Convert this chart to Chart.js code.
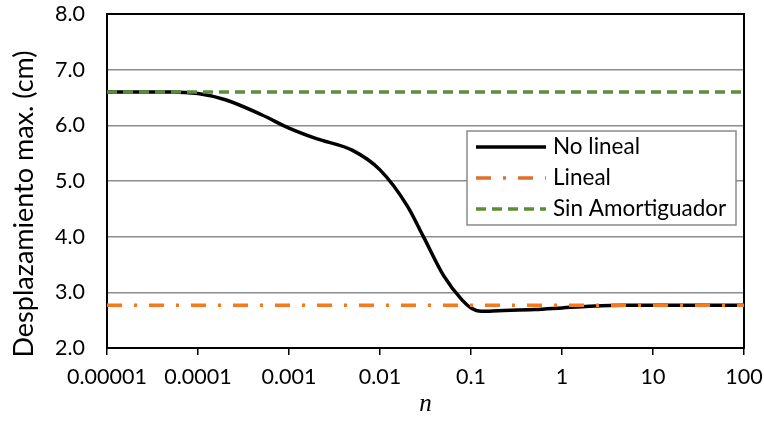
<!DOCTYPE html>
<html><head><meta charset="utf-8">
<script src="https://cdn.jsdelivr.net/npm/chart.js@4.4.1/dist/chart.umd.min.js"></script>
<style>html,body{margin:0;padding:0;background:#fff}#wrap{width:764px;height:421px}</style>
</head><body><div id="wrap"><canvas id="c" width="764" height="421"></canvas></div>
<script>
const nValues = [0.00001, 0.00002, 0.00005, 0.0001, 0.0002, 0.0005, 0.001, 0.002, 0.005, 0.01, 0.02, 0.03, 0.05, 0.08, 0.1, 0.13, 0.2, 0.5, 1, 2, 5, 10, 100];
const noLineal = [6.6, 6.6, 6.6, 6.57, 6.46, 6.19, 5.95, 5.76, 5.55, 5.2, 4.55, 4.0, 3.3, 2.86, 2.72, 2.66, 2.67, 2.69, 2.72, 2.75, 2.77, 2.77, 2.77];
const linealX = [0.00001, 100];
const lineal = [2.77, 2.77];
const sinX = [0.00001, 100];
const sinAmortiguador = [6.6, 6.6];
const xTicks = [0.00001, 0.0001, 0.001, 0.01, 0.1, 1, 10, 100];
const xTickLabels = ['0.00001', '0.0001', '0.001', '0.01', '0.1', '1', '10', '100'];
const seriesNames = ['No lineal', 'Lineal', 'Sin Amortiguador'];
const yTitle = 'Desplazamiento max. (cm)';
const xTitle = 'n';

const FONT = 'Lato, "Open Sans", sans-serif';
const toXY = (xs, ys) => xs.map((x, i) => ({x: x, y: ys[i]}));

const frame = {
  id: 'frame',
  beforeDatasetsDraw(chart) {
    const {ctx, chartArea: a} = chart;
    ctx.save();
    ctx.strokeStyle = '#000';
    ctx.lineWidth = 2;
    ctx.strokeRect(a.left, a.top, a.right - a.left, a.bottom - a.top);
    ctx.restore();
  },
  afterDraw(chart) {
    const ctx = chart.ctx;
    const ds = chart.data.datasets;
    ctx.save();
    // y axis title
    ctx.translate(24, 204);
    ctx.rotate(-Math.PI / 2);
    ctx.fillStyle = '#000';
    ctx.font = '27px ' + FONT;
    ctx.textAlign = 'center';
    ctx.textBaseline = 'middle';
    ctx.fillText(yTitle, 0, 0);
    ctx.restore();

    const bx = 467, by = 131, bw = 269, bh = 94;
    ctx.save();
    ctx.fillStyle = '#fff';
    ctx.fillRect(bx, by, bw, bh);
    ctx.strokeStyle = '#8a8a8a';
    ctx.lineWidth = 1.5;
    ctx.strokeRect(bx, by, bw, bh);
    const rows = [147, 178, 209];
    const legendColors = ['#000000', '#E0702C', '#5E8C3A'];
    ds.forEach((d, i) => {
      const y = rows[i];
      ctx.beginPath();
      ctx.strokeStyle = legendColors[i];
      ctx.lineWidth = 3.5;
      ctx.setLineDash(d.borderDash || []);
      ctx.moveTo(476, y);
      ctx.lineTo(546, y);
      ctx.stroke();
      ctx.setLineDash([]);
      ctx.fillStyle = '#000';
      ctx.font = '22.5px ' + FONT;
      ctx.textBaseline = 'middle';
      ctx.textAlign = 'left';
      ctx.fillText(d.label, 553, y);
    });
    ctx.restore();
  }
};

new Chart(document.getElementById('c'), {
  type: 'line',
  data: {
    datasets: [
      {label: seriesNames[0], data: toXY(nValues, noLineal), borderColor: '#000', borderWidth: 3.5, pointRadius: 0, cubicInterpolationMode: 'monotone', order: 2},
      {label: seriesNames[1], data: toXY(linealX, lineal), borderColor: '#F7791F', borderWidth: 3.5, borderDash: [15, 12, 3, 12], pointRadius: 0, order: 1},
      {label: seriesNames[2], data: toXY(sinX, sinAmortiguador), borderColor: '#5E8C3A', borderWidth: 3.5, borderDash: [10, 6], pointRadius: 0, order: 0}
    ]
  },
  options: {
    responsive: false,
    animation: false,
    layout: {padding: {left: 8, right: 20, top: 14, bottom: 2}},
    plugins: {legend: {display: false}, tooltip: {enabled: false}},
    scales: {
      x: {
        type: 'logarithmic', min: 0.00001, max: 100,
        afterBuildTicks(scale) { scale.ticks = xTicks.map(v => ({value: v})); },
        afterFit(scale) { scale.height = 71; scale.paddingLeft = 0; scale.paddingRight = 0; },
        ticks: {
          autoSkip: false, maxRotation: 0, padding: 9, color: '#000',
          font: {family: FONT, size: 21.5},
          callback: (v, i) => xTickLabels[i]
        },
        grid: {drawOnChartArea: false, drawTicks: true, tickLength: 7, color: '#000', lineWidth: 1.5},
        border: {display: false},
        title: {display: true, text: xTitle, color: '#000', font: {family: '"Liberation Serif", "DejaVu Serif", serif', size: 25, style: 'italic'}, padding: {top: 0, bottom: 0}}
      },
      y: {
        min: 2, max: 8,
        afterFit(scale) { scale.width = 99; scale.paddingTop = 0; scale.paddingBottom = 0; },
        ticks: {stepSize: 1, padding: 22, color: '#000', font: {family: FONT, size: 21.5}, callback: v => Number(v).toFixed(1)},
        grid: {drawTicks: false, color: '#8c8c8c', lineWidth: 1.5},
        border: {display: false},
        title: {display: false}
      }
    }
  },
  plugins: [frame]
});
</script></body></html>
